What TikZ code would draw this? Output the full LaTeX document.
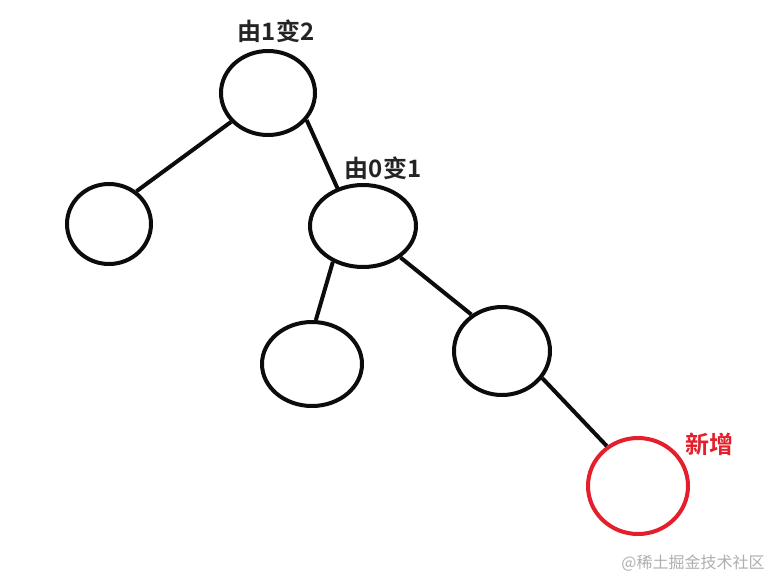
\documentclass[tikz,border=0pt]{standalone}
\usepackage{fontspec}
\usetikzlibrary{shapes.geometric}
\newfontfamily\cjkb{Noto Sans CJK SC}
\newfontfamily\cjkbold{Noto Sans CJK SC Bold}
\definecolor{newred}{RGB}{228,30,42}
\definecolor{wmgrey}{RGB}{175,175,175}
\definecolor{ink}{RGB}{12,12,12}
\tikzset{
  treenode/.style={ellipse, draw=ink, line width=4pt, inner sep=0pt},
  edgeline/.style={draw=ink, line width=4pt},
  lbl/.style={font=\cjkbold\fontsize{24}{26}\selectfont, text=ink!90, inner sep=0pt}
}
\begin{document}
\begin{tikzpicture}[x=1pt,y=-1pt]
\useasboundingbox[fill=white] (0,0) rectangle (771,579);
\node[treenode, minimum width=94pt, minimum height=84pt] (root) at (268,93) {};
\node[treenode, minimum width=84pt, minimum height=80pt] (left) at (109,224) {};
\node[treenode, minimum width=106pt, minimum height=82pt] (mid) at (363,226) {};
\node[treenode, minimum width=100pt, minimum height=84pt] (midl) at (312,364) {};
\node[treenode, minimum width=96pt, minimum height=88pt] (midr) at (502,351) {};
\node[treenode, draw=newred, minimum width=100pt, minimum height=96pt] (new) at (638,486) {};
\draw[edgeline] (root.218) -- (left.50);
\draw[edgeline, shorten >=-3pt] (root.325) -- (mid.124);
\draw[edgeline] (mid.230) -- (midl.85);
\draw[edgeline] (mid.320) -- (midr.130);
\draw[edgeline] (midr.326) -- (new.128);
\node[lbl] (l1) at (276,31) {由1变2};
\node[lbl] (l2) at (383,168) {由0变1};
\node[lbl, text=newred] (l3) at (709,444) {新增};
\node[font=\cjkb\fontsize{16}{18}\selectfont, text=wmgrey, inner sep=0pt] (wm) at (693,563) {@稀土掘金技术社区};
\end{tikzpicture}
\end{document}
